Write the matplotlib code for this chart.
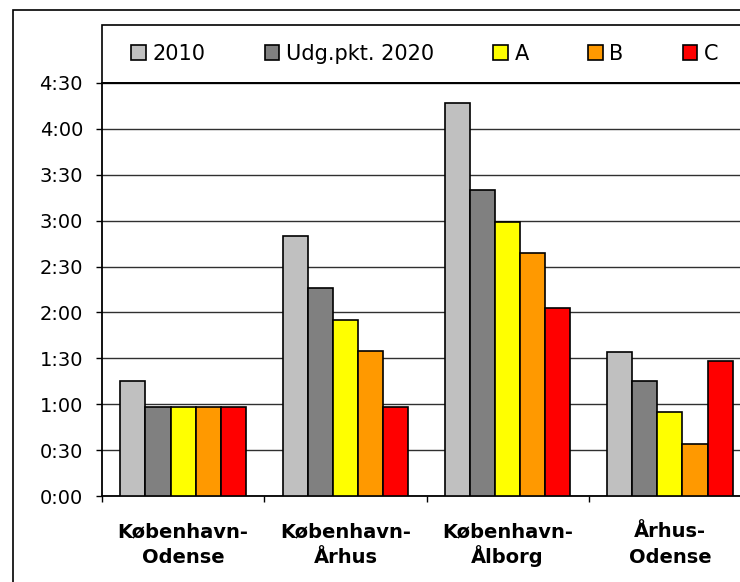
import matplotlib
matplotlib.use("Agg")
import matplotlib.pyplot as plt
from matplotlib.patches import Rectangle
from matplotlib.ticker import FuncFormatter, FixedLocator
from matplotlib.transforms import blended_transform_factory, ScaledTranslation
import numpy as np

# ---- data (minutes) ----
categories = ["København-\nOdense", "København-\nÅrhus", "København-\nÅlborg", "Århus-\nOdense"]
series_names = ["2010", "Udg.pkt. 2020", "A", "B", "C"]
v2010 = [75, 170, 257, 94]
vudg = [58, 136, 200, 75]
vA = [58, 115, 179, 55]
vB = [58, 95, 159, 34]
vC = [58, 58, 123, 88]
colors = ["#C0C0C0", "#808080", "#FFFF00", "#FF9900", "#FF0000"]
ytick_minutes = list(range(0, 271, 30))

series = [v2010, vudg, vA, vB, vC]

W, H = 740, 582
fig = plt.figure(figsize=(W / 100, H / 100), dpi=100)
ax = fig.add_axes([102 / W, 86 / H, 649 / W, 413 / H])

x = np.arange(len(categories))
width = 0.155
for i, (vals, name, col) in enumerate(zip(series, series_names, colors)):
    ax.bar(x + (i - 2) * width, vals, width, color=col, edgecolor="black",
           linewidth=1.2, zorder=3, label=name)

ax.set_xlim(-0.5, len(categories) - 0.5)
ax.set_ylim(0, 270)

ax.yaxis.set_major_locator(FixedLocator(ytick_minutes))
ax.yaxis.set_major_formatter(FuncFormatter(lambda v, p: f"{int(v)//60}:{int(v)%60:02d}"))
ax.yaxis.grid(True, color="#303030", linewidth=1.0, zorder=0)
ax.set_axisbelow(True)
ax.tick_params(axis="y", direction="out", length=6 * 0.72, width=1, pad=9.4,
               labelsize=14, colors="black")

# category labels: two lines each, with fixed baselines
ax.set_xticks(x)
ax.set_xticklabels([""] * len(categories))
ax.set_xticks(np.arange(-0.5, len(categories)), minor=True)
ax.tick_params(axis="x", which="major", length=0)
ax.tick_params(axis="x", which="minor", direction="out", length=6 * 0.72, width=1)
blend = blended_transform_factory(ax.transData, ax.transAxes)
for xi, cat in zip(x, categories):
    for li, line in enumerate(cat.split("\n")):
        off = ScaledTranslation(0, -(41 + 26 * li) / 100, fig.dpi_scale_trans)
        ax.text(xi, 0, line, transform=blend + off, ha="center", va="baseline",
                fontsize=14, fontweight="bold", color="black")

for s in ax.spines.values():
    s.set_linewidth(1.3)
    s.set_color("black")

# legend box above plot area
ax.add_patch(Rectangle((0, 1), 1.5, 58 / 413, transform=ax.transAxes, fill=False,
                       edgecolor="black", linewidth=1.2, clip_on=False))
ax.legend(loc="center left", bbox_to_anchor=((131 - 102) / 649, 1 + 29 / 413),
          ncol=5, frameon=False, fontsize=15, handlelength=0.7, handleheight=0.7,
          handletextpad=0.33, columnspacing=59 / 20.8, borderpad=0, borderaxespad=0)

# outer chart border
fig.add_artist(Rectangle((13 / W, -0.1), 1.2, (1 - 10 / H) + 0.1, transform=fig.transFigure,
                         fill=False, edgecolor="black", linewidth=1.2, clip_on=False))

fig.savefig("out.png", dpi=100)
